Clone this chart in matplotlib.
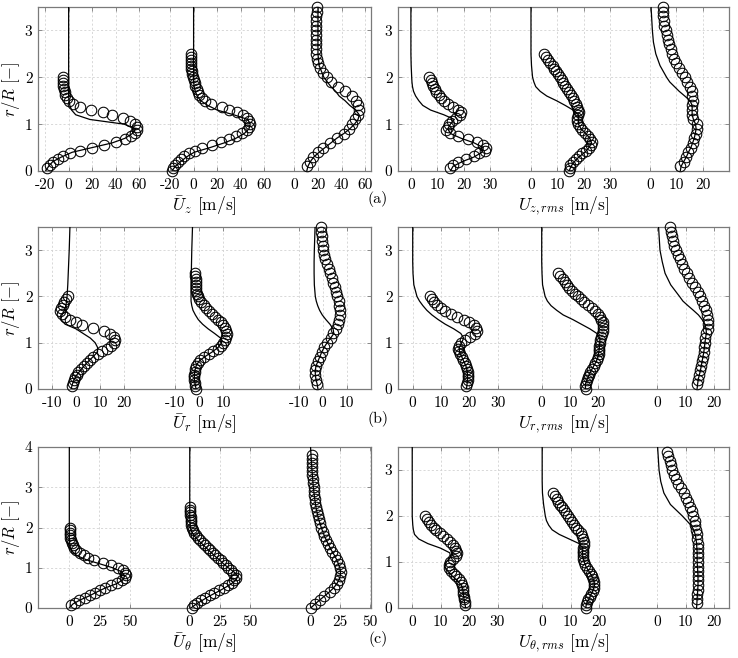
import matplotlib
matplotlib.use('Agg')
import matplotlib.pyplot as plt

plt.rcParams['font.family'] = ['cmr10', 'DejaVu Serif']
plt.rcParams['mathtext.fontset'] = 'cm'
plt.rcParams['axes.unicode_minus'] = False
plt.rcParams['axes.formatter.use_mathtext'] = True

# ---------------- radial stations (r/R) ----------------
y_exp1 = [0.0625, 0.125, 0.1875, 0.25, 0.3125, 0.375, 0.4375, 0.5, 0.5625, 0.625, 0.6875, 0.75,
          0.8125, 0.875, 0.9375, 1.0, 1.0625, 1.125, 1.1875, 1.25, 1.3125, 1.375, 1.4375, 1.5,
          1.5625, 1.625, 1.6875, 1.75, 1.8125, 1.875, 1.9375, 2.0]
y_exp2 = [0.0, 0.0625, 0.125, 0.1875, 0.25, 0.3125, 0.375, 0.4375, 0.5, 0.5625, 0.625, 0.6875, 0.75,
          0.8125, 0.875, 0.9375, 1.0, 1.0625, 1.125, 1.1875, 1.25, 1.3125, 1.375, 1.4375, 1.5,
          1.5625, 1.625, 1.6875, 1.75, 1.8125, 1.875, 1.9375, 2.0, 2.0625, 2.125, 2.1875, 2.25,
          2.3125, 2.375, 2.4375, 2.5]
y_exp3 = [0.1, 0.2, 0.3, 0.4, 0.5, 0.6, 0.7, 0.8, 0.9, 1.0, 1.1, 1.2, 1.3, 1.4, 1.5, 1.6, 1.7, 1.8,
          1.9, 2.0, 2.1, 2.2, 2.3, 2.4, 2.5, 2.6, 2.7, 2.8, 2.9, 3.0, 3.1, 3.2, 3.3, 3.4, 3.5]
y_exp3c = [0.0, 0.1, 0.2, 0.3, 0.4, 0.5, 0.6, 0.7, 0.8, 0.9, 1.0, 1.1, 1.2, 1.3, 1.4, 1.5, 1.6, 1.7,
           1.8, 1.9, 2.0, 2.1, 2.2, 2.3, 2.4, 2.5, 2.6, 2.7, 2.8, 2.9, 3.0, 3.1, 3.2, 3.3, 3.4, 3.5,
           3.6, 3.7, 3.8]
y_sim = [0.0, 0.1, 0.2, 0.3, 0.4, 0.5, 0.6, 0.7, 0.8, 0.9, 1.0, 1.1, 1.2, 1.3, 1.4, 1.5, 1.6, 1.7,
         1.8, 1.9, 2.0, 2.25, 2.5, 2.75, 3.0, 3.5, 4.0]

# ---------------- (a) mean axial velocity ----------------
uz_exp1 = [-18, -16, -13.5, -9, -5, 1, 10, 20, 30, 40, 48, 53, 56, 58, 58, 56, 52, 46, 37, 29, 19,
           10, 4, 0, -1.5, -3, -3.5, -4, -4.5, -4.5, -4.5, -4.5]
uz_exp2 = [-18.5, -17.5, -15.5, -13, -11, -8, -4, 1.5, 7.5, 16, 23, 30, 36, 41, 45, 47, 47.5, 47, 45,
           42, 37, 30, 24, 15, 10, 7, 4.5, 3.5, 2.5, 1.5, 1, 0, -0.5, -1, -1.5, -2, -2, -2, -2, -2, -2]
uz_exp3 = [11, 13, 16, 20, 24, 30.5, 36, 42, 46, 49, 51.5, 54, 55, 54, 52, 49, 43, 37, 31, 28, 24,
           21.5, 20, 19, 18.5, 18.5, 18.5, 18.3, 18.3, 18.3, 18.5, 18.5, 18.7, 19, 19]
uz_sim1 = [-19.5, -17, -13.5, -6, 3, 20, 37, 48, 54, 57, 47, 18, 6, 2.5, 1, 0.3, 0, 0, 0, 0, 0,
           0, 0, 0, 0, 0, 0]
uz_sim2 = [-18.5, -15.5, -11, -6, 0.5, 14, 26, 36, 43, 47, 48, 46, 34, 20, 12, 6, 3, 1.5, 0.5, 0,
           0, 0, 0, 0, 0, 0, 0]
uz_sim3 = [10.5, 11.5, 13.5, 16.5, 21, 26, 31, 36, 42, 47, 51, 54, 55, 52, 47, 43, 38, 35, 31, 28,
           25, 21, 20, 20, 20, 20, 20]

# ---------------- (a) rms axial velocity ----------------
uzr_exp1 = [15, 16, 18, 21, 24, 26, 28, 28.5, 27.5, 25, 21.5, 18, 15, 13.5, 14, 14.5, 15.5, 17, 18.5,
            19, 18, 16, 14, 12.5, 11.5, 10.5, 9.5, 9, 8.5, 8, 7.5, 7]
uzr_exp2 = [14.5, 14.8, 15, 16, 17, 18.3, 19.5, 20.8, 22, 22.8, 23, 22.5, 21.5, 20.7, 19.5, 18.5,
            17.8, 17.5, 17.5, 17.8, 18.2, 18, 17.5, 17, 16.5, 15.8, 15.2, 14.5, 13.8, 13, 12.3,
            11.6, 11, 10.2, 9.5, 8.8, 8.2, 7.4, 6.6, 5.8, 5]
uzr_exp3 = [11.5, 12.8, 13.8, 14.6, 15.5, 16.2, 16.8, 17.3, 17.9, 17.7, 16.5, 15.8, 15.8, 16, 16.2,
            16, 15.8, 15, 14, 13.2, 12.2, 11.1, 10, 9.2, 8.5, 7.9, 7.2, 6.7, 6.3, 5.9, 5.5, 5.2,
            5, 4.9, 4.8]
uzr_sim1 = [15, 16, 19.5, 24, 27, 27.5, 24, 19, 15, 14, 15, 16.5, 12.5, 7.5, 4.5, 3, 1.8, 1, 0.6,
            0.4, 0.3, 0.1, 0, 0, 0, 0, 0]
uzr_sim2 = [14.5, 15.2, 16.5, 18.2, 20.5, 22, 23, 22.3, 20.8, 19, 18, 18, 18, 16, 13, 9.7, 6, 3.5,
            1.8, 1.1, 0.6, 0.2, 0, 0, 0, 0, 0]
uzr_sim3 = [11.5, 11.8, 12.8, 13.8, 14.6, 15.5, 16.2, 16.8, 17.2, 17.5, 17.3, 16.5, 16, 16, 16,
            15.2, 13.2, 11.1, 9.3, 7.5, 6.3, 3.8, 2.2, 1.3, 0.9, 0.4, 0.3]

# ---------------- (b) mean radial velocity ----------------
ur_exp1 = [-1.5, -1.2, -0.8, -0.3, 0.3, 1, 2, 3.2, 4.5, 5.8, 7.3, 9, 11, 13, 14.8, 15.8, 16.3,
           15.8, 14, 11.5, 7, 2.5, 0, -2.5, -4.5, -6, -6.5, -6.2, -5.5, -4.8, -4, -3.2]
ur_exp2 = [-1.2, -1.5, -1.7, -1.9, -1.9, -1.9, -1.8, -1.6, -1.2, -0.5, 0.4, 2, 4, 6, 7.8, 9, 10.2,
           11, 11.3, 11.5, 11.3, 10.8, 10, 9.2, 8, 6.8, 5.5, 4.3, 3, 2, 1, 0, -0.6, -1, -1.2, -1.3,
           -1.3, -1.3, -1.4, -1.5, -1.6]
ur_exp3 = [-2.2, -2.8, -3.2, -3.2, -2.8, -2, -1.2, -0.4, 0.6, 1.8, 3.3, 4.4, 5.5, 6.3, 6.9, 7.2,
           7.1, 6.9, 6.6, 6.1, 5.6, 5.1, 4.4, 3.7, 3, 2.4, 1.8, 1.1, 0.6, 0.2, 0, -0.3, -0.5,
           -0.8, -0.8]
ur_sim1 = [-2, -1.5, -0.8, 0.3, 1.8, 3.4, 5.2, 7.2, 9, 9, 8, 6, 3, 0, -4.5, -6.3, -5.8, -4.8,
           -4.2, -3.9, -3.7, -3.4, -3.2, -3, -2.8, -2.5, -2.3]
ur_sim2 = [-1.2, -1.6, -1.9, -1.9, -1.7, -1.2, 0, 2.5, 5.5, 8, 9.5, 9, 6.5, 3.8, 1.5, -0.3, -1.5,
           -2.5, -3, -3.3, -3.3, -3.3, -3.2, -3.1, -3.0, -2.7, -2.5]
ur_sim3 = [-2, -2.3, -2.8, -3.1, -3.1, -2.8, -2, -1.2, -0.4, 0.6, 1.8, 3.3, 4.6, 4.3, 3, 1.3,
           -0.2, -1.3, -2.1, -2.7, -3.1, -3.5, -3.6, -3.6, -3.5, -3.2, -3]

# ---------------- (b) rms radial velocity ----------------
urr_exp1 = [19, 19.2, 19.4, 19.5, 19.5, 19.4, 19.2, 18.8, 18.4, 17.8, 17.3, 16.8, 16.3, 15.9, 16.2,
            16.9, 18.6, 20.2, 21.9, 22.7, 22.5, 21.5, 20, 18, 15.5, 13.5, 11.5, 10, 8.5, 7.5, 6.7, 6]
urr_exp2 = [15.5, 15.3, 15.5, 15.9, 16.4, 16.8, 17.2, 17.8, 18.4, 19, 19.6, 19.9, 20.1, 20.3, 20.4,
            20.4, 20.5, 20.6, 21, 21.3, 21.7, 21.8, 21.8, 21.5, 21.1, 20.5, 19.8, 19, 17.7, 16.2,
            15, 14, 13, 11.8, 10.8, 9.8, 9, 8.2, 7.4, 6.5, 5.9]
urr_exp3 = [14, 14.3, 14.6, 15, 15.4, 15.8, 16.1, 16.3, 16.5, 16.7, 16.9, 17.3, 17.8, 18, 18, 17.7,
            17.2, 16.6, 15.8, 15, 14.3, 13.3, 12.1, 11.2, 10.4, 9.5, 8.7, 7.9, 7.2, 6.6, 6, 5.5,
            5.1, 4.8, 4.5]
urr_sim1 = [19, 19.2, 19.4, 19.4, 19.2, 18.8, 18, 17.3, 16.5, 16.5, 17.3, 18, 17, 14.5, 11.5, 9,
            6.8, 5, 3.6, 2.4, 1.5, 0.4, 0.1, 0, 0, 0, 0]
urr_sim2 = [15.5, 15.4, 16, 16.7, 17.5, 18.4, 19.3, 19.9, 20.2, 20.4, 20.5, 20.6, 19.5, 17, 14, 11,
            7.6, 5.3, 3.3, 2, 1.2, 0.3, 0.1, 0, 0, 0, 0]
urr_sim3 = [14, 14.2, 14.4, 14.8, 15.2, 15.5, 15.8, 16.1, 16.4, 16.6, 16.8, 17, 17.3, 17.2, 16.8,
            15.8, 14.5, 12.7, 10.8, 9, 7.8, 4.7, 2.7, 1.7, 0.9, 0.4, 0.3]

# ---------------- (c) mean tangential velocity ----------------
ut_exp1 = [1.8, 4.5, 8, 13, 17, 21.5, 25.5, 30, 35, 40, 43.5, 46, 47, 46.5, 44.5, 40.5, 35, 28,
           20.5, 15.5, 12, 8.5, 5.5, 4, 3, 2, 1.3, 0.8, 0.5, 0.3, 0.2, 0.2]
ut_exp2 = [1.5, 3.5, 6.3, 9.5, 12.8, 16.5, 20.5, 24.5, 28.5, 32, 35, 37, 38.2, 38, 36.3, 34, 31.7,
           29.8, 27.8, 25.7, 23.3, 21, 19, 17, 15, 12.8, 10.8, 8.8, 6.7, 5, 3.5, 2.6, 1.8, 1.3, 1,
           0.8, 0.7, 0.6, 0.6, 0.6, 0.6]
ut_exp3 = [1, 4, 7.8, 11.5, 16.2, 19.7, 22.3, 24, 25, 25.5, 24.9, 23.6, 22.2, 20.5, 18.2, 16.6,
           14.8, 13.2, 11.7, 10.6, 9.3, 8.1, 7.1, 6.3, 5.6, 4.9, 4.4, 3.9, 3.5, 3.1, 2.8, 2.4, 2.1,
           1.9, 1.7, 1.7, 1.5, 1.4, 1.4]
ut_sim1 = [0, 3, 9, 16.5, 23, 30, 39, 44.5, 46, 43.5, 36, 25, 14, 6.5, 2.5, 0.8, 0.3, 0, 0, 0, 0,
           0, 0, 0, 0, 0, 0]
ut_sim2 = [1, 5.5, 11, 16.5, 23, 29, 34.5, 38.5, 40, 36.5, 32, 28, 24.5, 20.5, 17, 13.5, 10, 6.5,
           3.5, 1.5, 0.5, 0, 0, 0, 0, 0, 0]
ut_sim3 = [0.5, 4, 8, 12, 16, 19.5, 22, 24, 25, 25.2, 24.6, 23.4, 22, 20.3, 18.3, 16.5, 14.8, 13.2,
           11.7, 10.4, 9.2, 6.6, 4.8, 3.6, 2.6, 1.3, 0.3]

# ---------------- (c) rms tangential velocity ----------------
utr_exp1 = [18.7, 18.4, 18.2, 18.1, 18, 17.9, 17.7, 17.5, 17, 16.3, 15.5, 14.6, 13.8, 13, 12.8,
            13.3, 14.5, 15.5, 15.8, 15.5, 14.9, 14.3, 13.3, 12.2, 11, 9.6, 8.5, 7.5, 6.6, 5.8,
            5.1, 4.6]
utr_exp2 = [15.3, 15.4, 15.7, 16.2, 16.8, 17.3, 17.8, 18.2, 18.4, 18.4, 18, 17.5, 17, 16.3, 15.7,
            15.1, 14.8, 14.5, 14.3, 14.2, 14.3, 14.5, 14.7, 14.8, 14.5, 14, 13.5, 12.7, 12, 11.3,
            10.5, 9.8, 9.1, 8.4, 7.7, 7, 6.4, 5.7, 5.1, 4.4, 3.8]
utr_exp3 = [13.9, 14, 14.1, 14.2, 14.3, 14.4, 14.4, 14.3, 14.3, 14.2, 14.2, 14.2, 14.2, 14.2, 14.1,
            14, 13.7, 13.4, 13.1, 12.7, 12.2, 11.6, 10.9, 10.1, 9.2, 8.3, 7.4, 6.6, 5.9, 5.3, 4.8,
            4.3, 3.8, 3.4]
utr_sim1 = [18.8, 18.5, 18.2, 18, 17.8, 17.2, 15.8, 14, 12.5, 11.5, 12, 13.5, 13.2, 10, 5.5, 2.3,
            0.8, 0.4, 0.2, 0.1, 0, 0, 0, 0, 0, 0, 0]
utr_sim2 = [15.3, 15.6, 16.5, 17.2, 18, 18.4, 18.2, 17.4, 16.4, 15.4, 14.8, 14.3, 14.2, 14.3, 13,
            9.5, 6, 3.5, 2.3, 1.5, 1.1, 0.5, 0.1, 0, 0, 0, 0]
utr_sim3 = [13.8, 13.9, 14, 14.1, 14.2, 14.3, 14.3, 14.3, 14.2, 14.1, 14, 14, 14, 13.9, 13.8, 13.6,
            13.3, 12.8, 11.8, 10.3, 8.8, 4.6, 2.3, 1.2, 0.6, 0.1, 0]

# ---------------- tick labels per profile ----------------
ticks_uz = [[-20, 0, 20, 40, 60], [-20, 0, 20, 40, 60], [0, 20, 40, 60]]
ticks_uzr = [[0, 10, 20, 30], [0, 10, 20, 30], [0, 10, 20]]
ticks_ur = [[-10, 0, 10, 20], [-10, 0, 10], [-10, 0, 10]]
ticks_urr = [[0, 10, 20, 30], [0, 10, 20], [0, 10, 20]]
ticks_ut = [[0, 25, 50], [0, 25, 50], [0, 25, 50]]
ticks_utr = [[0, 10, 20, 30], [0, 10, 20], [0, 10, 20]]

xlabels = [r'$\bar{U}_z$ [m/s]', r'$U_{z,rms}$ [m/s]',
           r'$\bar{U}_r$ [m/s]', r'$U_{r,rms}$ [m/s]',
           r'$\bar{U}_\theta$ [m/s]', r'$U_{\theta,rms}$ [m/s]']
panel_tags = ['(a)', '(b)', '(c)']

# ---------------- layout (figure pixels) ----------------
W, H = 738, 658
fig = plt.figure(figsize=(W / 100, H / 100), dpi=100)

col_x = [(38, 333), (398, 331)]
row_y = [(7, 171), (227, 389), (447, 608)]


def add_ax(r, c):
    x0, w = col_x[c]
    top, bot = row_y[r]
    return fig.add_axes([x0 / W, 1 - bot / H, w / W, (bot - top) / H])


panels = [
    dict(r=0, c=0, exp=[uz_exp1, uz_exp2, uz_exp3], sim=[uz_sim1, uz_sim2, uz_sim3],
         yexp=[y_exp1, y_exp2, y_exp3], off=[0, 106, 191.5], xlim=(-26, 256.5),
         ticks=ticks_uz, ylim=3.5, yt=[0, 1, 2, 3]),
    dict(r=0, c=1, exp=[uzr_exp1, uzr_exp2, uzr_exp3], sim=[uzr_sim1, uzr_sim2, uzr_sim3],
         yexp=[y_exp1, y_exp2, y_exp3], off=[0, 45.6, 90.8], xlim=(-4.9, 120.8),
         ticks=ticks_uzr, ylim=3.5, yt=[0, 1, 2, 3]),
    dict(r=1, c=0, exp=[ur_exp1, ur_exp2, ur_exp3], sim=[ur_sim1, ur_sim2, ur_sim3],
         yexp=[y_exp1, y_exp2, y_exp3], off=[0, 51.25, 102.8], xlim=(-15.8, 122.9),
         ticks=ticks_ur, ylim=3.5, yt=[0, 1, 2, 3]),
    dict(r=1, c=1, exp=[urr_exp1, urr_exp2, urr_exp3], sim=[urr_sim1, urr_sim2, urr_sim3],
         yexp=[y_exp1, y_exp2, y_exp3], off=[0, 45.6, 86.5], xlim=(-5.2, 111.8),
         ticks=ticks_urr, ylim=3.5, yt=[0, 1, 2, 3]),
    dict(r=2, c=0, exp=[ut_exp1, ut_exp2, ut_exp3], sim=[ut_sim1, ut_sim2, ut_sim3],
         yexp=[y_exp1, y_exp2, y_exp3c], off=[0, 100, 200], xlim=(-26, 250.5),
         ticks=ticks_ut, ylim=4.0, yt=[0, 1, 2, 3, 4]),
    dict(r=2, c=1, exp=[utr_exp1, utr_exp2, utr_exp3], sim=[utr_sim1, utr_sim2, utr_sim3],
         yexp=[y_exp1, y_exp2, y_exp3], off=[0, 45.7, 86.2], xlim=(-5.0, 111.4),
         ticks=ticks_utr, ylim=3.5, yt=[0, 1, 2, 3]),
]

frame_col = '#7a7a7a'
for i, p in enumerate(panels):
    ax = add_ax(p['r'], p['c'])
    for k in range(3):
        off = p['off'][k]
        ax.plot([v + off for v in p['sim'][k]], y_sim, '-', color='k', lw=0.9, zorder=3)
        ye = p['yexp'][k][:len(p['exp'][k])]
        ax.plot([v + off for v in p['exp'][k]], ye, 'o', mfc='none', mec='k', ms=7.6,
                mew=0.75, zorder=4, clip_on=False)
    pos, lab = [], []
    for k in range(3):
        for t in p['ticks'][k]:
            pos.append(t + p['off'][k])
            lab.append(str(t))
    ax.set_xticks(pos)
    ax.set_xticklabels(lab)
    ax.set_xlim(*p['xlim'])
    ax.set_ylim(0, p['ylim'])
    ax.set_yticks(p['yt'])
    ax.set_yticklabels([str(t) for t in p['yt']])
    ax.grid(True, ls=(0, (2.5, 2.5)), color='#d2d2d2', lw=0.6, zorder=0)
    ax.set_axisbelow(True)
    for s in ax.spines.values():
        s.set_color(frame_col)
        s.set_linewidth(0.9)
    ax.tick_params(direction='in', length=3, width=0.6, color=frame_col, labelsize=11,
                   top=True, right=True, pad=5)
    ax.tick_params(axis='y', pad=4)
    ax.set_xlabel(xlabels[i], fontsize=12.5, labelpad=2)
    if p['c'] == 0:
        ax.set_ylabel(r'$r/R\ [-]$', fontsize=12, va='center')
        ax.yaxis.set_label_coords(-0.08, 0.5)

for r, tag in enumerate(panel_tags):
    yc = [199, 419, 639][r]
    fig.text(378 / W, 1 - yc / H, tag, ha='center', va='center', fontsize=11.5)

fig.savefig('out.png', dpi=100)
